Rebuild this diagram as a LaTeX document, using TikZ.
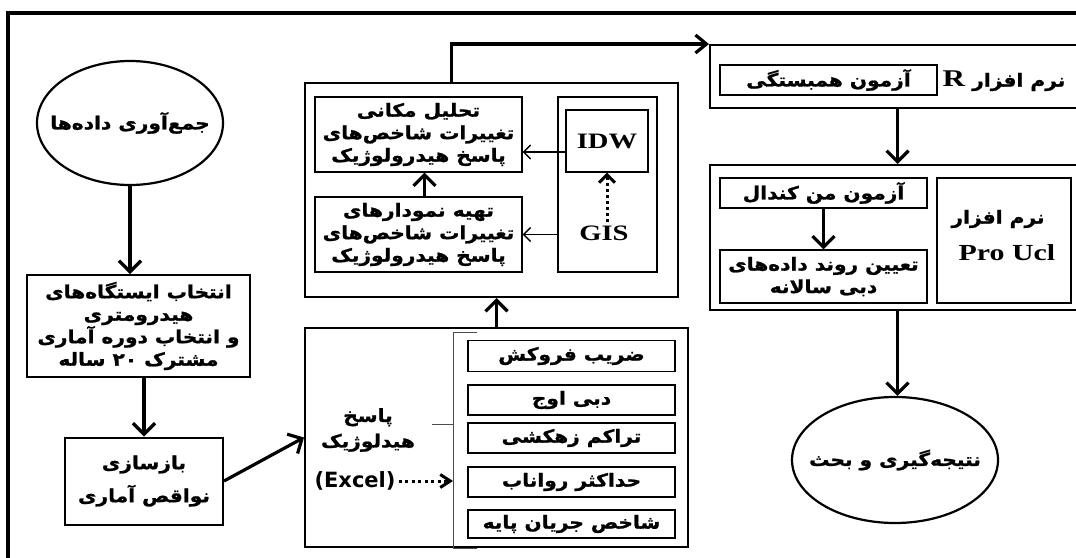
\documentclass[tikz,border=0pt]{standalone}
\usepackage{fontspec}
\setmainfont{Liberation Serif}
\newfontfamily\fa[Script=Arabic, FakeStretch=1.12, BoldFeatures={FakeBold=1.2}]{DejaVu Sans}
\newfontfamily\exfont{DejaVu Sans}
\newfontfamily\lat[FakeStretch=1.3]{Liberation Serif}
\TeXXeTstate=1
\usetikzlibrary{shapes.geometric}
\usetikzlibrary{calc}
\usetikzlibrary{positioning, arrows.meta}
\newcommand{\rl}[1]{\beginR #1\endR}

\begin{document}
\begin{tikzpicture}[x=1pt, y=-1pt,
    outerbox/.style={draw, line width=2pt, inner sep=0pt},
    innerbox/.style={draw, line width=1.2pt, inner sep=0pt},
    oval/.style={draw, ellipse, line width=2.2pt, inner sep=0pt},
    txt/.style={font=\fa\bfseries\fontsize{18}{22.5}\selectfont, align=center},
    bigarrow/.style={line width=3.2pt, -{Straight Barb[length=11pt, width=22pt]}},
    smallarrow/.style={line width=1.5pt, -{Straight Barb[length=7pt, width=14pt]}}]
    % Page frame
    \clip (0,0) rectangle (1076,557);
    \draw[line width=4.5pt] (8,562) -- (8,13) -- (1082,13);

    % Left column
    \node[oval, minimum width=186pt, minimum height=124pt] (collect) at (130,123) {};
    \node[txt] (collecttxt) at (collect.center) {\rl{جمع‌آوری داده‌ها}};
    \node[outerbox, txt, minimum width=223pt, minimum height=102pt] (select) at (138.5,326)
        {\rl{انتخاب ایستگاه‌های}\\\rl{هیدرومتری}\\\rl{و انتخاب دوره آماری}\\\rl{مشترک \beginL۲۰\endL{} ساله}};
    \node[outerbox, txt, minimum width=158pt, minimum height=87pt, font=\fa\bfseries\fontsize{18}{33}\selectfont] (rebuild) at (144,481)
        {\rl{بازسازی}\\\rl{نواقص آماری}};

    \draw[bigarrow] (collect.south) -- (collect.south |- select.north);
    \draw[bigarrow] (rebuild.north |- select.south) -- (rebuild.north);

    % Excel box with the five indices
    \node[outerbox, minimum width=383pt, minimum height=219pt] (excelbox) at (496.5,437.5) {};
    \node[txt] (resp) at (368,430) {\rl{پاسخ}\\[3pt]\rl{هیدلوژیک}};
    \node[font=\exfont\bfseries\fontsize{21}{24}\selectfont, inner sep=0pt] (excel) at (355,481) {(Excel)};
    \node[innerbox, txt, minimum width=207pt, minimum height=31pt] (recess) at (571.5,356) {\rl{ضریب فروکش}};
    \node[innerbox, txt, minimum width=207pt, minimum height=30pt] (peak) at (571.5,400) {\rl{دبی اوج}};
    \node[innerbox, txt, minimum width=207pt, minimum height=30pt] (drain) at (571.5,438) {\rl{تراکم زهکشی}};
    \node[innerbox, txt, minimum width=207pt, minimum height=30pt] (runoff) at (571.5,482) {\rl{حداکثر رواناب}};
    \node[innerbox, txt, minimum width=207pt, minimum height=28pt] (base) at (571.5,524) {\rl{شاخص جریان پایه}};

    % bracket
    \coordinate (brtop) at (453,332);
    \coordinate (brbot) at (453,548);
    \coordinate (brmid) at (453,424);
    \draw[gray!60!black, line width=1pt] ($(brtop)+(24,0)$) -- (brtop) -- (brbot) -- ($(brbot)+(24,0)$);
    \draw[gray!60!black, line width=1pt] ($(brmid)+(-21,0)$) -- (brmid);
    \draw[line width=3pt, dash pattern=on 3pt off 3.5pt, -{Straight Barb[length=10pt, width=13pt]}] ([xshift=3pt]excel.east) -- (excel.east -| brtop);

    \draw[bigarrow] (rebuild.east) -- (excelbox.west);

    % GIS box
    \node[outerbox, minimum width=373pt, minimum height=214pt] (gisbox) at (491.5,190) {};
    \node[innerbox, txt, minimum width=207pt, minimum height=75pt] (spatial) at (418.5,134.5)
        {\rl{تحلیل مکانی}\\\rl{تغییرات شاخص‌های}\\\rl{پاسخ هیدرولوژیک}};
    \node[innerbox, txt, minimum width=207pt, minimum height=75pt] (charts) at (418.5,234.5)
        {\rl{تهیه نمودارهای}\\\rl{تغییرات شاخص‌های}\\\rl{پاسخ هیدرولوژیک}};
    \node[innerbox, minimum width=99pt, minimum height=175pt] (tools) at (607.5,184.5) {};
    \node[innerbox, minimum width=82pt, minimum height=62pt, font=\lat\bfseries\fontsize{22}{24}\selectfont] (idw) at (607,141) {IDW};
    \node[font=\lat\bfseries\fontsize{22}{24}\selectfont, inner sep=3pt] (gis) at (604,233) {GIS};

    \draw[line width=3pt, dash pattern=on 3pt off 3pt, -{Straight Barb[length=8pt, width=16pt]}] (gis.north -| idw.south) -- (idw.south);
    \draw[smallarrow] ([yshift=-11pt]idw.west) -- ([yshift=-11pt]idw.west -| spatial.east);
    \draw[smallarrow] (tools.west |- charts.east) -- (charts.east);
    \draw[bigarrow] ([xshift=6pt]charts.north) -- ([xshift=6pt]spatial.south);
    \draw[bigarrow] (excelbox.north) -- (excelbox.north |- gisbox.south);

    % Right column
    \node[outerbox, minimum width=375pt, minimum height=63pt] (rbox) at (897.5,76.5) {};
    \node[innerbox, txt, minimum width=217pt, minimum height=30pt] (corr) at (828.5,80) {\rl{آزمون همبستگی}};
    \node[txt] (rsoft) at (1004,81) {\beginR نرم افزار\ {\lat\bfseries\fontsize{24}{24}\selectfont R}\endR};

    \node[outerbox, minimum width=375pt, minimum height=145pt] (pbox) at (897.5,237.5) {};
    \node[innerbox, txt, minimum width=207pt, minimum height=30pt] (mk) at (823.5,193) {\rl{آزمون من کندال}};
    \node[innerbox, txt, minimum width=207pt, minimum height=53pt] (trend) at (823.5,276.5)
        {\rl{تعیین روند داده‌های}\\\rl{دبی سالانه}};
    \node[innerbox, minimum width=134pt, minimum height=125pt] (proucl) at (1004,240.5) {};
    \node[txt] (psoft) at (998,219) {\rl{نرم افزار}};
    \node[font=\lat\bfseries\fontsize{23}{24}\selectfont] (pname) at (1007,253) {Pro Ucl};

    \node[oval, minimum width=206pt, minimum height=126pt] (result) at (895,460) {};
    \node[txt] (resulttxt) at (result.center) {\rl{نتیجه‌گیری و بحث}};

    \draw[line width=3.2pt, -{Straight Barb[length=11pt, width=18pt]}] ([xshift=-40pt]gisbox.north) |- (rbox.north west);
    \draw[bigarrow] (rbox.south) -- (pbox.north);
    \draw[bigarrow] (mk.south) -- (trend.north);
    \draw[bigarrow] (pbox.south) -- (pbox.south |- result.north);
\end{tikzpicture}
\end{document}
